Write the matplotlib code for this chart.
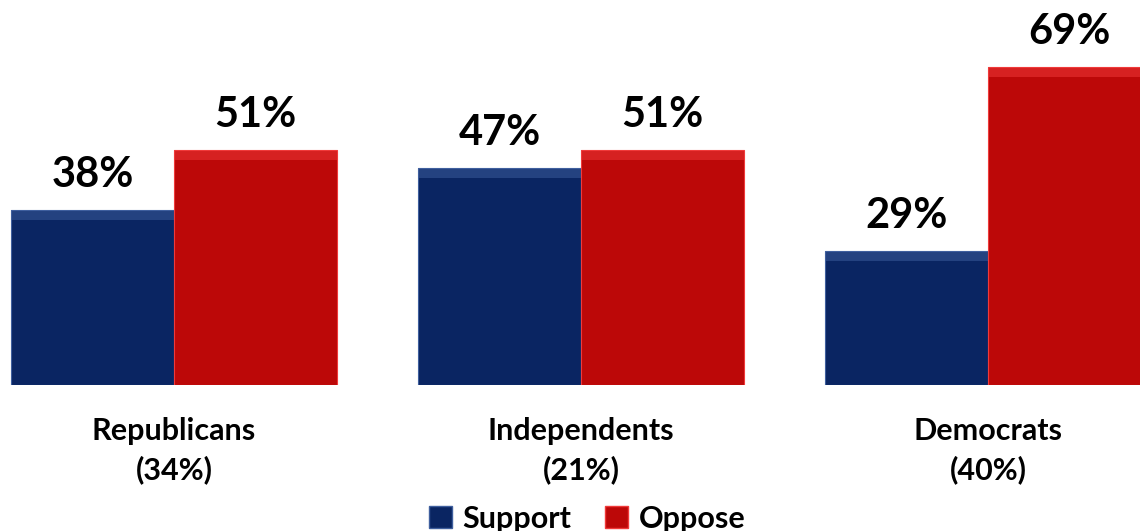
import matplotlib.pyplot as plt
import numpy as np
from matplotlib.patches import Patch

# Data
groups = ["Republicans\n(34%)", "Independents\n(21%)", "Democrats\n(40%)"]
support = [38, 47, 29]
oppose = [51, 51, 69]
series_names = ["Support", "Oppose"]

blue = "#0a2562"
blue_hi = "#3f5f9e"
red = "#bc0808"
red_hi = "#f03a3a"

plt.rcParams['font.family'] = ['Lato', 'DejaVu Sans']

fig = plt.figure(figsize=(11.4, 5.31), dpi=100)
# axes placed so the baseline sits where the reference has it
ax = fig.add_axes([0, 146 / 531, 1, 385 / 531])

x = np.arange(len(groups))
w = 0.4

for vals, col, hi, off in [(support, blue, blue_hi, -w / 2), (oppose, red, red_hi, w / 2)]:
    ax.bar(x + off, vals, width=w, color=col, edgecolor=hi, linewidth=0.8)
    # lighter bevel along the top of each bar
    ax.bar(x + off, [2.2] * len(vals), bottom=[v - 2.2 for v in vals], width=w,
           color=hi, alpha=0.5, linewidth=0)
    for xi, v in zip(x + off, vals):
        ax.text(xi, v + 3.5, f"{v}%", ha='center', va='bottom',
                fontsize=30, fontweight='bold', color='black')

for xi, g in zip(x, groups):
    ax.text(xi, -7, g, ha='center', va='top', fontsize=22, fontweight='bold',
            linespacing=1.4, clip_on=False)

ax.set_xlim(-0.4275, 2.3735)
ax.set_ylim(0, 83.5)
ax.axis('off')

handles = [Patch(facecolor=blue, edgecolor=blue_hi), Patch(facecolor=red, edgecolor=red_hi)]
fig.legend(handles, series_names, loc='lower center', bbox_to_anchor=(0.515, -0.055),
           ncol=2, frameon=False, handlelength=0.75, handleheight=0.75,
           handletextpad=0.35, columnspacing=1.1,
           prop={'size': 22, 'weight': 'bold'})

fig.savefig("out.png", dpi=100)
